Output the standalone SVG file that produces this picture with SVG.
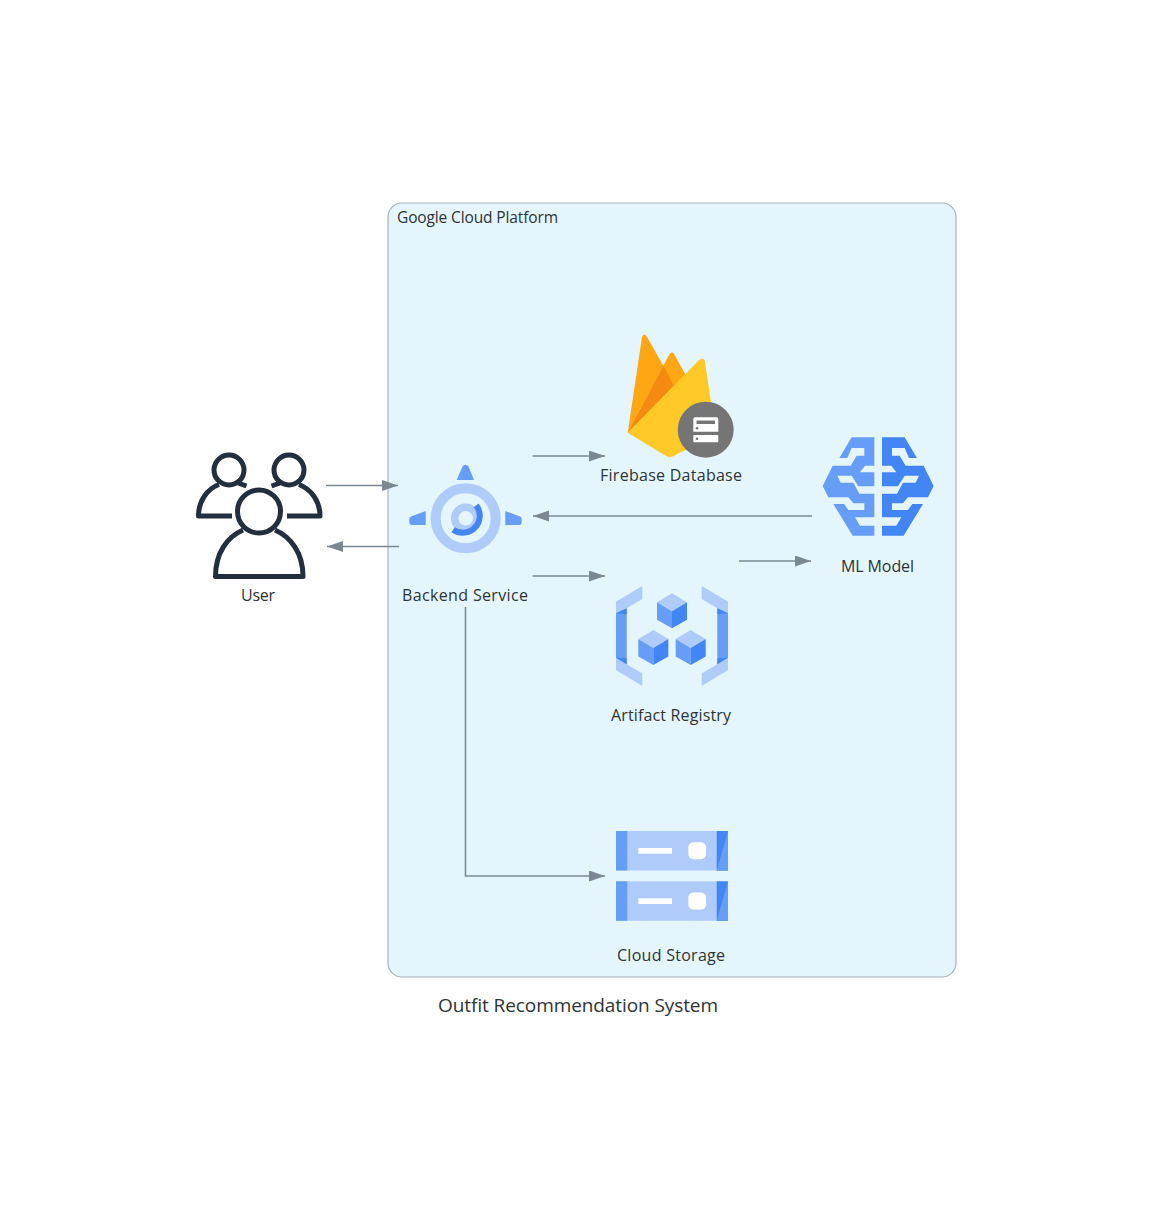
<svg xmlns="http://www.w3.org/2000/svg" width="1159" height="1217" viewBox="0 0 1159 1217">
<style>
text{font-family:"Open Sans","Noto Sans",sans-serif;fill:#2d3436}
.l{font-size:16px;text-anchor:middle}
.c{fill:none;stroke:#7b8894;stroke-width:1.6}
.a{fill:#7b8894}
.b1{fill:#aecbfa}.b2{fill:#669df6}.b3{fill:#4285f4}
.u{fill:none;stroke:#232f3e;stroke-width:5;stroke-linejoin:round}
</style>
<defs>
<marker id="ah" markerUnits="userSpaceOnUse" markerWidth="17" markerHeight="12" refX="16" refY="5.5" orient="auto"><path class="a" d="M0 0L16 5.5L0 11Z"/></marker>
<g id="cube"><path class="b1" d="M0 0L15 9L0 18L-15 9Z"/><path class="b2" d="M-15 9L0 18V35L-15 26.500Z"/><path class="b3" d="M15 9L0 18V35L15 26.500Z"/></g>
<g id="row"><rect class="b1" x="616" width="112" height="39.500"/><rect class="b2" x="616" width="11.300" height="39.500"/><rect class="b3" x="716.700" width="11.300" height="39.500"/><path class="b2" d="M728 0L716.700 39.500H728Z"/><rect fill="#fff" x="638.300" y="17" width="33.700" height="5.700"/><rect fill="#fff" x="688.300" y="11.300" width="17.700" height="17" rx="5"/></g>
<path id="brain" d="M58 78L95 16H163V101H135L120 121H163V163H115L95 131H52L62 152H100L118 185H163V256H105L120 281H163V311H98L40 216H72L85 234H133V214H100L85 196H25L8 162L38 101H92L110 71H133V48H95L82 78Z"/>
</defs>
<g id="cluster"><rect x="388" y="203" width="568" height="774" rx="14" fill="#e5f5fd" stroke="#a3b5c2" stroke-width="1.200"/><text x="397" y="222.500" font-size="15.500" textLength="161">Google Cloud Platform</text></g>
<g id="connectors">
<path class="c" marker-end="url(#ah)" d="M326 485.500H398"/>
<path class="c" marker-end="url(#ah)" d="M399 546.500H327"/>
<path class="c" marker-end="url(#ah)" d="M532.500 456H605"/>
<path class="c" marker-end="url(#ah)" d="M812 516H533"/>
<path class="c" marker-end="url(#ah)" d="M532.500 576H605"/>
<path class="c" marker-end="url(#ah)" d="M739 561H811"/>
<path class="c" marker-end="url(#ah)" d="M465.500 607V876H605"/>
</g>
<g id="user">
<circle class="u" cx="229" cy="470" r="15"/><circle class="u" cx="289" cy="470" r="15"/>
<path class="u" d="M232 516H198.500C198.500 501 207 489 219 484.500"/>
<path class="u" d="M287 516H320C320 501 311 489 299 484.500"/>
<path class="u" d="M246.500 486L238 483"/><path class="u" d="M271.500 486L280 483"/>
<circle class="u" cx="259" cy="511.500" r="21.500"/>
<path class="u" d="M243 530C227 537 215.500 553 215.500 576.500H303C303 553 291 537 275 530"/>
<text class="l" x="258" y="601" textLength="34">User</text>
</g>
<g id="backend">
<circle cx="465.700" cy="518.300" r="30" fill="none" stroke="#aecbfa" stroke-width="10"/>
<circle cx="465.700" cy="518.300" r="11" fill="none" stroke="#aecbfa" stroke-width="7.500"/>
<path d="M476.200 505.300A17 17 0 0 1 453.100 529.700" fill="none" stroke="#4285f4" stroke-width="6"/>
<path class="b2" d="M456.700 480H474L468.500 466.500Q465.700 463 462.500 466.500Z"/>
<path class="b2" d="M425.700 511V525H412Q409.300 525 409.300 522V519Q409.300 517 411 516.500Z"/>
<path class="b2" d="M505.300 511V525H519Q521.700 525 521.700 522V519Q521.700 517 520 516.500Z"/>
<text class="l" x="465" y="601" textLength="126">Backend Service</text>
</g>
<g id="firebase">
<path fill="#ffa712" d="M627.700 432.700L642 337Q644 332 647 337L663.300 365.700Z"/>
<path fill="#ffa712" d="M627.700 432.700L669 355Q671.500 350 674 354L685.700 375Z"/>
<path fill="#f68a10" d="M627.700 432.700L663.300 365.700L674 386Z"/>
<path fill="#ffca28" d="M627.700 432.700L699 360Q704 356 705 362L716 436L677 454Q671.500 459 666 456Z"/>
<circle cx="705.700" cy="429.700" r="28" fill="#757575"/>
<path fill="#fff" fill-rule="evenodd" d="M695 417.300H716.500Q718.300 417.300 718.300 419V431.700H693.300V419Q693.300 417.300 695 417.300ZM696.500 420.500V424H715V420.500Z"/>
<rect x="693.300" y="435" width="25" height="7.300" rx="1" fill="#fff"/>
<circle cx="697" cy="428.300" r="1.300" fill="#757575"/><circle cx="697" cy="438.700" r="1.300" fill="#757575"/>
<text class="l" x="671" y="481" textLength="142">Firebase Database</text>
</g>
<g id="mlmodel">
<use href="#brain" class="b2" transform="translate(820 432) scale(.3333)"/>
<use href="#brain" class="b3" transform="translate(936.300 432) scale(-.3333 .3333)"/>
<text class="l" x="877.500" y="572" textLength="73">ML Model</text>
</g>
<g id="artifact">
<path class="b1" d="M616 601.700L642.300 586V599L616 614.500Z"/><path class="b1" d="M616 658L642.300 673.500V686L616 670Z"/>
<path class="b2" d="M616 613.300L626.700 608.300V664.300L616 657.700Z"/><path class="b3" d="M616 613.300L626.700 608.300V614.300Z"/><path class="b3" d="M616 657.700L626.700 664.300V658.300Z"/>
<path class="b1" d="M728 601.700L701.700 586V599L728 614.500Z"/><path class="b1" d="M728 658L701.700 673.500V686L728 670Z"/>
<path class="b2" d="M728 613.300L717.300 608.300V664.300L728 657.700Z"/><path class="b3" d="M728 613.300L717.300 608.300V614.300Z"/><path class="b3" d="M728 657.700L717.300 664.300V658.300Z"/>
<use href="#cube" x="672" y="593.300"/><use href="#cube" x="653.300" y="630"/><use href="#cube" x="690.700" y="630"/>
<text class="l" x="671" y="721" textLength="120">Artifact Registry</text>
</g>
<g id="storage">
<use href="#row" y="831"/><use href="#row" y="881.300"/>
<text class="l" x="671" y="961" textLength="108">Cloud Storage</text>
</g>
<text id="title" x="438" y="1012" font-size="19" textLength="280">Outfit Recommendation System</text>
</svg>
